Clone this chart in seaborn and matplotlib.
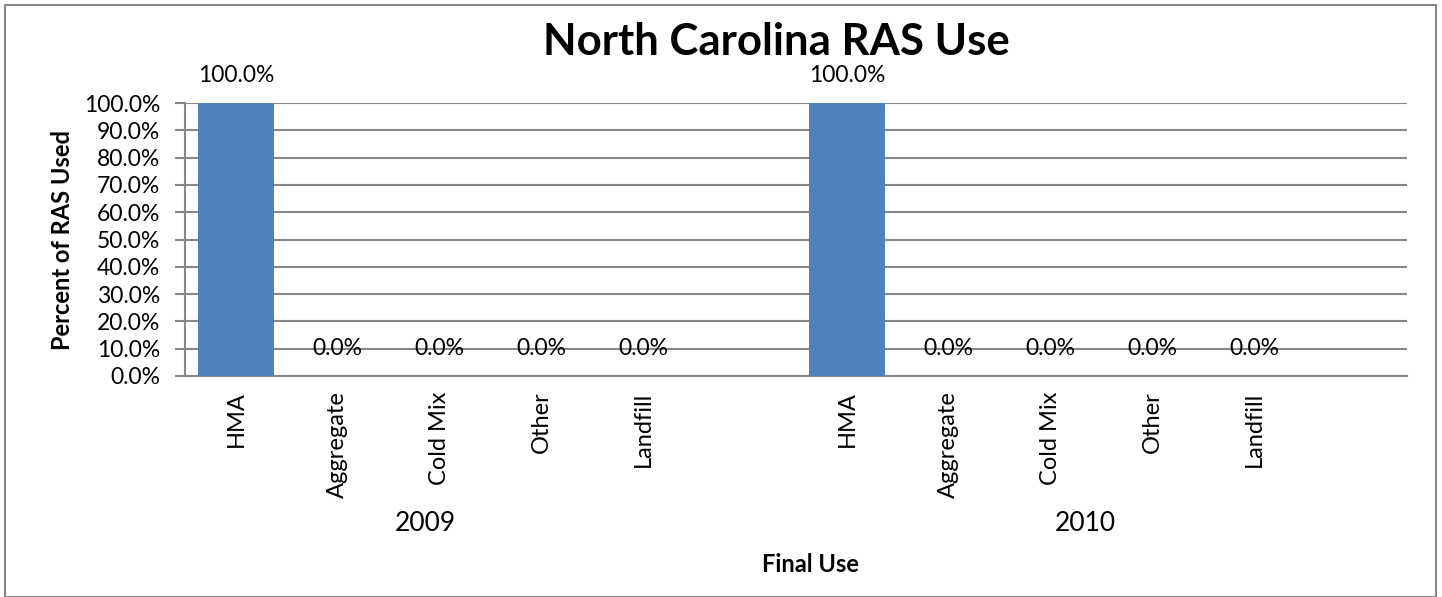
import numpy as np
import pandas as pd
import seaborn as sns
import matplotlib.pyplot as plt
from matplotlib.patches import Rectangle

# data
years = ["2009", "2010"]
uses = ["HMA", "Aggregate", "Cold Mix", "Other", "Landfill", ""]
pct_2009 = [100.0, 0.0, 0.0, 0.0, 0.0, np.nan]
pct_2010 = [100.0, 0.0, 0.0, 0.0, 0.0, np.nan]

rows = []
for yr, vals in zip(years, [pct_2009, pct_2010]):
    for u, v in zip(uses, vals):
        rows.append({"slot": yr + "|" + u, "use": u, "year": yr, "pct": v})
df = pd.DataFrame(rows)
order = df["slot"].tolist()

sns.set_theme(style="white")
plt.rcParams['font.family'] = ['Lato', 'DejaVu Sans']
plt.rcParams.update({"text.color": "black", "axes.labelcolor": "black",
                     "xtick.labelcolor": "black", "ytick.labelcolor": "black"})

fig = plt.figure(figsize=(14.42, 5.97), dpi=100)
ax = fig.add_axes([185 / 1442, 1 - 376 / 597, (1407 - 185) / 1442, (376 - 103) / 597])

sns.barplot(data=df.dropna(), x="slot", y="pct", order=order, color="#4F81BD",
            saturation=1, width=0.75, linewidth=0, ax=ax, zorder=3)

for c in ax.containers:
    ax.bar_label(c, fmt="{:.1f}%", padding=12, fontsize=16.5, color="black")

ax.set_ylim(0, 100)
ax.set_yticks(np.arange(0, 101, 10))
ax.set_yticklabels([f"{v:.1f}%" for v in np.arange(0, 101, 10)], fontsize=16.5)
ax.set_xticks(range(len(order)))
ax.set_xticklabels(df["use"].tolist(), rotation=90, fontsize=17, va="top")
ax.tick_params(axis="x", length=0, pad=11)
ax.tick_params(axis="y", length=7, width=1.5, color="#878787", direction="out", pad=11, left=True)
ax.yaxis.grid(True, color="#878787", linewidth=1.5, zorder=0)
ax.set_axisbelow(True)
for s in ["top", "right"]:
    ax.spines[s].set_visible(False)
ax.spines["left"].set_color("#878787")
ax.spines["left"].set_linewidth(1.5)
ax.spines["bottom"].set_color("#878787")
ax.spines["bottom"].set_linewidth(1.5)

ax.set_xlabel("")
ax.set_ylabel("Percent of RAS Used", fontsize=17, fontweight="bold", labelpad=7)

# group labels under the categories
ax.text(1.86, -54, "2009", ha="center", va="center", fontsize=19)
ax.text(8.34, -54, "2010", ha="center", va="center", fontsize=19)

fig.text(811 / 1442, 1 - 565 / 597, "Final Use", ha="center", va="center", fontsize=17, fontweight="bold")
fig.text(776 / 1442, 1 - 42 / 597, "North Carolina RAS Use", ha="center", va="center", fontsize=31.5, fontweight="bold")

fig.patches.append(Rectangle((5 / 1442, 0), 1431 / 1442, 1 - 5 / 597, transform=fig.transFigure,
                             fill=False, edgecolor="#878787", linewidth=1.5))

fig.savefig("out.png", dpi=100)
